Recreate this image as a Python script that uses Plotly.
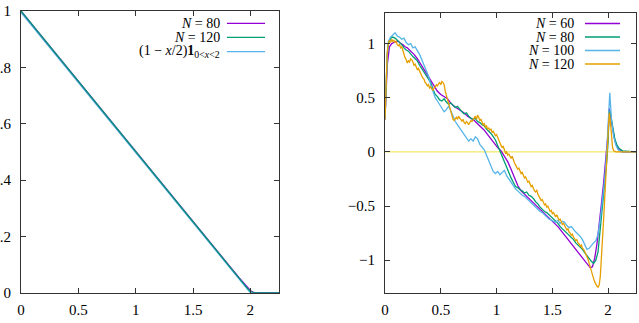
import plotly.graph_objects as go

# ---------------- Left panel data ----------------
left_n80 = [(0, 1.0), (0.25, 0.875), (0.5, 0.75), (0.75, 0.625), (1.0, 0.5), (1.25, 0.375),
            (1.5, 0.25), (1.75, 0.125), (1.85, 0.077), (1.9, 0.054), (1.95, 0.031), (1.98, 0.016),
            (2.0, 0.008), (2.02, 0.002), (2.04, 0.0), (2.25, 0.0)]
left_n120 = [(0, 1.0), (0.5, 0.75), (1.0, 0.5), (1.5, 0.25), (1.8, 0.10), (1.9, 0.052),
             (1.95, 0.028), (1.98, 0.013), (2.0, 0.005), (2.02, 0.001), (2.03, 0.0), (2.25, 0.0)]
left_exact = [(0, 0.995), (2.0, 0.0), (2.25, 0.0)]

# ---------------- Right panel data ----------------
r_n60 = [(0, 0.30), (0.01, 0.55), (0.02, 0.80), (0.04, 0.97), (0.06, 1.00), (0.08, 1.01), (0.10, 1.02),
         (0.12, 1.02), (0.14, 1.00), (0.16, 0.99), (0.18, 0.97), (0.20, 0.96), (0.23, 0.93), (0.26, 0.90),
         (0.29, 0.86), (0.32, 0.81), (0.35, 0.76), (0.38, 0.72), (0.41, 0.66), (0.44, 0.61), (0.47, 0.56),
         (0.50, 0.53), (0.53, 0.51), (0.56, 0.49), (0.59, 0.45), (0.62, 0.42), (0.65, 0.40), (0.68, 0.38),
         (0.71, 0.36), (0.74, 0.33), (0.77, 0.31), (0.80, 0.29), (0.83, 0.26), (0.86, 0.23), (0.89, 0.20),
         (0.92, 0.16), (0.95, 0.12), (0.98, 0.07), (1.01, 0.04), (1.04, 0.01), (1.07, -0.04), (1.10, -0.09),
         (1.13, -0.16), (1.16, -0.24), (1.19, -0.31), (1.22, -0.36), (1.25, -0.39), (1.28, -0.42),
         (1.31, -0.45), (1.34, -0.48), (1.37, -0.51), (1.40, -0.54), (1.43, -0.57), (1.46, -0.60),
         (1.49, -0.63), (1.52, -0.66), (1.55, -0.69), (1.58, -0.73), (1.61, -0.77), (1.64, -0.81),
         (1.67, -0.85), (1.70, -0.89), (1.73, -0.93), (1.76, -0.97), (1.79, -1.01), (1.82, -1.05),
         (1.84, -1.07), (1.86, -1.06), (1.88, -0.98), (1.90, -0.85), (1.92, -0.68), (1.94, -0.48),
         (1.96, -0.28), (1.98, -0.08), (2.00, 0.18), (2.01, 0.40), (2.02, 0.35), (2.04, 0.22),
         (2.06, 0.11), (2.08, 0.05), (2.10, 0.02), (2.13, 0.0), (2.25, 0.0)]

r_n80 = [(0, 0.32), (0.01, 0.62), (0.02, 0.88), (0.03, 1.00), (0.05, 1.05), (0.07, 1.06), (0.09, 1.05),
         (0.11, 1.03), (0.13, 1.01), (0.15, 0.99), (0.17, 0.96), (0.19, 0.94), (0.21, 0.93), (0.23, 0.90),
         (0.25, 0.88), (0.27, 0.86), (0.29, 0.84), (0.31, 0.80), (0.33, 0.77), (0.35, 0.73), (0.37, 0.71),
         (0.39, 0.68), (0.41, 0.64), (0.43, 0.58), (0.45, 0.53), (0.47, 0.51), (0.49, 0.48), (0.51, 0.47),
         (0.53, 0.49), (0.55, 0.46), (0.57, 0.44), (0.59, 0.45), (0.61, 0.43), (0.63, 0.41), (0.65, 0.42),
         (0.67, 0.39), (0.69, 0.37), (0.71, 0.35), (0.73, 0.36), (0.75, 0.33), (0.77, 0.31), (0.79, 0.30),
         (0.81, 0.31), (0.83, 0.28), (0.85, 0.27), (0.87, 0.25), (0.89, 0.24), (0.91, 0.21), (0.93, 0.19),
         (0.95, 0.17), (0.97, 0.14), (0.99, 0.11), (1.01, 0.06), (1.03, 0.01), (1.05, -0.04), (1.07, -0.09),
         (1.09, -0.15), (1.11, -0.19), (1.13, -0.24), (1.15, -0.28), (1.17, -0.32), (1.19, -0.33),
         (1.21, -0.35), (1.23, -0.36), (1.25, -0.38), (1.27, -0.37), (1.29, -0.40), (1.31, -0.41),
         (1.33, -0.43), (1.35, -0.46), (1.37, -0.48), (1.39, -0.51), (1.41, -0.53), (1.43, -0.55),
         (1.45, -0.56), (1.47, -0.58), (1.49, -0.60), (1.51, -0.62), (1.53, -0.64), (1.55, -0.66),
         (1.57, -0.69), (1.59, -0.71), (1.61, -0.73), (1.63, -0.75), (1.65, -0.77), (1.67, -0.79),
         (1.69, -0.81), (1.71, -0.84), (1.73, -0.86), (1.75, -0.88), (1.77, -0.90), (1.79, -0.93),
         (1.81, -0.96), (1.83, -0.99), (1.85, -1.01), (1.87, -1.03), (1.89, -1.00), (1.91, -0.92),
         (1.93, -0.72), (1.95, -0.50), (1.97, -0.28), (1.99, -0.06), (2.00, 0.10), (2.01, 0.38),
         (2.02, 0.36), (2.04, 0.22), (2.06, 0.12), (2.08, 0.06), (2.10, 0.03), (2.13, 0.01), (2.25, 0.0)]

r_n100 = [(0, 0.30), (0.01, 0.62), (0.02, 0.90), (0.03, 1.02), (0.05, 1.06), (0.07, 1.08), (0.09, 1.10),
          (0.11, 1.07), (0.13, 1.06), (0.15, 1.04), (0.17, 1.05), (0.19, 1.01), (0.21, 0.99), (0.23, 1.00),
          (0.25, 0.96), (0.27, 0.97), (0.29, 0.94), (0.31, 0.90), (0.33, 0.85), (0.35, 0.80), (0.37, 0.76),
          (0.39, 0.70), (0.41, 0.62), (0.43, 0.55), (0.45, 0.50), (0.47, 0.47), (0.49, 0.44), (0.51, 0.40),
          (0.53, 0.37), (0.55, 0.39), (0.57, 0.42), (0.59, 0.38), (0.61, 0.32), (0.63, 0.28), (0.65, 0.25),
          (0.67, 0.22), (0.69, 0.18), (0.71, 0.16), (0.73, 0.13), (0.75, 0.10), (0.77, 0.12), (0.79, 0.10),
          (0.81, 0.14), (0.83, 0.12), (0.85, 0.07), (0.87, 0.04), (0.89, 0.02), (0.91, -0.03), (0.93, -0.08),
          (0.95, -0.14), (0.97, -0.18), (0.99, -0.20), (1.01, -0.18), (1.03, -0.21), (1.05, -0.19),
          (1.07, -0.17), (1.09, -0.22), (1.11, -0.25), (1.13, -0.29), (1.15, -0.31), (1.17, -0.34),
          (1.19, -0.36), (1.21, -0.38), (1.23, -0.40), (1.25, -0.41), (1.27, -0.43), (1.29, -0.45),
          (1.31, -0.47), (1.33, -0.49), (1.35, -0.51), (1.37, -0.53), (1.39, -0.55), (1.41, -0.56),
          (1.43, -0.58), (1.45, -0.60), (1.47, -0.62), (1.49, -0.63), (1.51, -0.64), (1.53, -0.65),
          (1.55, -0.63), (1.57, -0.66), (1.59, -0.64), (1.61, -0.65), (1.63, -0.68), (1.65, -0.70),
          (1.67, -0.69), (1.69, -0.72), (1.71, -0.74), (1.73, -0.76), (1.75, -0.78), (1.77, -0.81),
          (1.79, -0.85), (1.81, -0.90), (1.83, -0.89), (1.85, -0.86), (1.87, -0.84), (1.89, -0.82),
          (1.91, -0.76), (1.93, -0.62), (1.95, -0.45), (1.97, -0.25), (1.99, 0.05), (2.00, 0.30),
          (2.015, 0.545), (2.03, 0.30), (2.05, 0.14), (2.07, 0.06), (2.09, 0.02), (2.12, 0.0), (2.25, 0.0)]

r_n120 = [(0, 0.30), (0.01, 0.65), (0.02, 0.92), (0.03, 1.00), (0.04, 1.03), (0.05, 1.01), (0.06, 1.04),
          (0.07, 1.02), (0.08, 1.03), (0.09, 1.01), (0.10, 1.02), (0.11, 0.99), (0.12, 0.98), (0.13, 0.99),
          (0.14, 0.96), (0.15, 0.97), (0.16, 0.93), (0.17, 0.90), (0.18, 0.87), (0.19, 0.85), (0.20, 0.82),
          (0.21, 0.84), (0.22, 0.83), (0.23, 0.86), (0.24, 0.85), (0.25, 0.83), (0.26, 0.80), (0.27, 0.81),
          (0.28, 0.78), (0.29, 0.76), (0.30, 0.77), (0.31, 0.74), (0.32, 0.72), (0.33, 0.70), (0.34, 0.68),
          (0.35, 0.67), (0.36, 0.64), (0.37, 0.63), (0.38, 0.61), (0.39, 0.62), (0.40, 0.59), (0.41, 0.60),
          (0.42, 0.58), (0.43, 0.57), (0.44, 0.59), (0.45, 0.60), (0.46, 0.62), (0.47, 0.61), (0.48, 0.63),
          (0.49, 0.64), (0.50, 0.62), (0.51, 0.65), (0.52, 0.64), (0.53, 0.62), (0.54, 0.56), (0.55, 0.52),
          (0.56, 0.49), (0.57, 0.45), (0.58, 0.40), (0.59, 0.36), (0.60, 0.33), (0.61, 0.30), (0.62, 0.29),
          (0.63, 0.31), (0.64, 0.32), (0.65, 0.30), (0.66, 0.33), (0.67, 0.31), (0.68, 0.30), (0.69, 0.28),
          (0.70, 0.30), (0.71, 0.27), (0.72, 0.26), (0.73, 0.28), (0.74, 0.27), (0.75, 0.25), (0.76, 0.27),
          (0.77, 0.29), (0.78, 0.28), (0.79, 0.30), (0.80, 0.31), (0.81, 0.33), (0.82, 0.30), (0.83, 0.34),
          (0.84, 0.32), (0.85, 0.29), (0.86, 0.30), (0.87, 0.27), (0.88, 0.25), (0.89, 0.26), (0.90, 0.23),
          (0.91, 0.24), (0.92, 0.21), (0.93, 0.22), (0.94, 0.20), (0.95, 0.21), (0.96, 0.18), (0.97, 0.19),
          (0.98, 0.17), (0.99, 0.15), (1.00, 0.16), (1.01, 0.13), (1.02, 0.10), (1.03, 0.08), (1.04, 0.06),
          (1.05, 0.04), (1.06, 0.05), (1.07, 0.02), (1.08, -0.01), (1.09, 0.00), (1.10, -0.03),
          (1.11, -0.02), (1.12, -0.05), (1.13, -0.06), (1.14, -0.04), (1.15, -0.08), (1.16, -0.10),
          (1.17, -0.12), (1.18, -0.14), (1.19, -0.16), (1.20, -0.15), (1.21, -0.18), (1.22, -0.20),
          (1.23, -0.19), (1.24, -0.22), (1.25, -0.24), (1.26, -0.23), (1.27, -0.26), (1.28, -0.28),
          (1.29, -0.27), (1.30, -0.30), (1.31, -0.32), (1.32, -0.31), (1.33, -0.34), (1.34, -0.36),
          (1.35, -0.37), (1.36, -0.35), (1.37, -0.39), (1.38, -0.41), (1.39, -0.43), (1.40, -0.45),
          (1.41, -0.44), (1.42, -0.47), (1.43, -0.49), (1.44, -0.48), (1.45, -0.51), (1.46, -0.50),
          (1.47, -0.53), (1.48, -0.55), (1.49, -0.54), (1.50, -0.57), (1.51, -0.56), (1.52, -0.59),
          (1.53, -0.60), (1.54, -0.58), (1.55, -0.61), (1.56, -0.63), (1.57, -0.62), (1.58, -0.65),
          (1.59, -0.67), (1.60, -0.66), (1.61, -0.69), (1.62, -0.70), (1.63, -0.72), (1.64, -0.71),
          (1.65, -0.74), (1.66, -0.75), (1.67, -0.77), (1.68, -0.76), (1.69, -0.79), (1.70, -0.80),
          (1.71, -0.82), (1.72, -0.81), (1.73, -0.84), (1.74, -0.85), (1.75, -0.87), (1.76, -0.86),
          (1.77, -0.89), (1.78, -0.90), (1.79, -0.92), (1.80, -0.94), (1.81, -0.96), (1.82, -0.99),
          (1.83, -1.03), (1.84, -1.07), (1.85, -1.10), (1.86, -1.14), (1.87, -1.17), (1.88, -1.20),
          (1.89, -1.23), (1.90, -1.24), (1.91, -1.25), (1.92, -1.23), (1.93, -1.15), (1.94, -1.00),
          (1.95, -0.82), (1.96, -0.62), (1.97, -0.42), (1.98, -0.22), (1.99, -0.04), (2.00, 0.20),
          (2.01, 0.36), (2.02, 0.28), (2.03, 0.12), (2.04, 0.04), (2.05, 0.01), (2.07, 0.0), (2.25, 0.0)]

zero_line = [(0, 0.0), (2.25, 0.0)]

left_ticks_x = [0, 0.5, 1, 1.5, 2]
left_ticks_y = [0, 0.2, 0.4, 0.6, 0.8, 1]
right_ticks_x = [0, 0.5, 1, 1.5, 2]
right_ticks_y = [-1, -0.5, 0, 0.5, 1]

PURPLE = "#9400d3"
GREEN = "#009e73"
CYAN = "#56b4e9"
ORANGE = "#e69f00"
YELLOW = "#f0e442"

W, H = 639, 323
FONT = "Liberation Serif, Times New Roman, serif"


def xs(pts):
    return [p[0] for p in pts]


def ys(pts):
    return [p[1] for p in pts]


fig = go.Figure()

# Left
for pts, col in [(left_exact, CYAN), (left_n80, PURPLE), (left_n120, GREEN)]:
    fig.add_trace(go.Scatter(x=xs(pts), y=ys(pts), mode="lines", line=dict(color=col, width=1.3),
                             xaxis="x", yaxis="y", showlegend=False, hoverinfo="skip"))
# Right
for pts, col, w in [(zero_line, YELLOW, 1.0), (r_n60, PURPLE, 1.3), (r_n80, GREEN, 1.3),
                    (r_n100, CYAN, 1.3), (r_n120, ORANGE, 1.3)]:
    fig.add_trace(go.Scatter(x=xs(pts), y=ys(pts), mode="lines", line=dict(color=col, width=w),
                             xaxis="x2", yaxis="y2", showlegend=False, hoverinfo="skip"))

axis_common = dict(showline=True, linecolor="#333333", linewidth=1, mirror="ticks", ticks="inside",
                   ticklen=5, tickcolor="#333333", showgrid=False, zeroline=False,
                   tickfont=dict(family=FONT, size=15, color="black"), automargin=False)

y_bot = 1 - 292.7 / H

fig.update_layout(
    width=W, height=H, margin=dict(l=0, r=0, t=0, b=0),
    paper_bgcolor="white", plot_bgcolor="white",
    xaxis=dict(domain=[21 / W, 279 / W], range=[0, 2.25], tickvals=left_ticks_x,
               anchor="y", ticklabelstandoff=3, **axis_common),
    yaxis=dict(domain=[y_bot, 1 - 11 / H], range=[0, 1], tickvals=left_ticks_y,
               anchor="x", ticklabelstandoff=6, **axis_common),
    xaxis2=dict(domain=[385 / W, 636 / W], range=[0, 2.25], tickvals=right_ticks_x,
                anchor="y2", ticklabelstandoff=3, **axis_common),
    yaxis2=dict(domain=[y_bot, 1 - 12.7 / H], range=[-1.3, 1.285], tickvals=right_ticks_y,
                anchor="x2", ticklabelstandoff=6, **axis_common),
)

# Gnuplot-style legends (text right-aligned, sample line to the right)
left_legend = [("<i>N</i> = 80", PURPLE, 23.3),
               ("<i>N</i> = 120", GREEN, 37.3),
               ("(1 − <i>x</i>/2)<b>1</b><sub>0&lt;<i>x</i>&lt;2</sub>", CYAN, 51.7)]
right_legend = [("<i>N</i> = 60", PURPLE, 23.5),
                ("<i>N</i> = 80", GREEN, 37.0),
                ("<i>N</i> = 100", CYAN, 50.5),
                ("<i>N</i> = 120", ORANGE, 64.0)]

annotations = []
shapes = []
for items, tx, lx0, lx1 in [(left_legend, 221.7, 227, 265), (right_legend, 575.7, 585, 620)]:
    for txt, col, py in items:
        annotations.append(dict(x=tx / W, y=1 - py / H, xref="paper", yref="paper", text=txt,
                                showarrow=False, xanchor="right", yanchor="middle",
                                font=dict(family=FONT, size=14, color="black")))
        shapes.append(dict(type="line", xref="paper", yref="paper", x0=lx0 / W, x1=lx1 / W,
                           y0=1 - py / H, y1=1 - py / H, line=dict(color=col, width=1.3)))
fig.update_layout(annotations=annotations, shapes=shapes)

fig.write_html("out.html")
